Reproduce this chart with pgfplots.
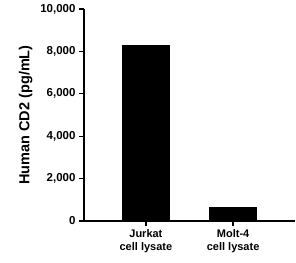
\documentclass[border=0pt]{standalone}
\usepackage{pgfplots}
\pgfplotsset{compat=1.18}
\usepackage{fontspec}
\setmainfont{Liberation Sans}
\begin{document}
\begin{tikzpicture}
\begin{axis}[
  scale only axis,
  width=211pt, height=212pt,
  axis lines*=left,
  axis line style={line width=1.6pt, black},
  xmin=-0.71, xmax=1.71,
  ymin=0, ymax=10000,
  ytick={0,2000,4000,6000,8000,10000},
  xtick={0,1},
  xticklabels={Jurkat\\cell lysate, Molt-4\\cell lysate},
  xticklabel style={align=center, font=\fontsize{11}{13}\selectfont\bfseries},
  yticklabel style={font=\fontsize{11.5}{13}\selectfont\bfseries},
  /pgf/number format/assume math mode=true,
  /pgf/number format/1000 sep={,},
  scaled y ticks=false,
  tick align=outside,
  major tick length=5pt,
  tick style={line width=1.4pt, black},
  every axis y label/.style={at={(axis description cs:-0.277,0.5)}, anchor=center, rotate=90},
  ylabel={Human CD2 (pg/mL)},
  ylabel style={font=\fontsize{14.5}{16}\selectfont\bfseries},
  clip=false,
]
\addplot[ybar, bar width=47pt, fill=black, draw=black] coordinates {(0,8290) (1,646)};
\end{axis}
\pgfresetboundingbox
\path (-84pt,-41pt) rectangle (212pt,221pt);
\end{tikzpicture}
\end{document}
